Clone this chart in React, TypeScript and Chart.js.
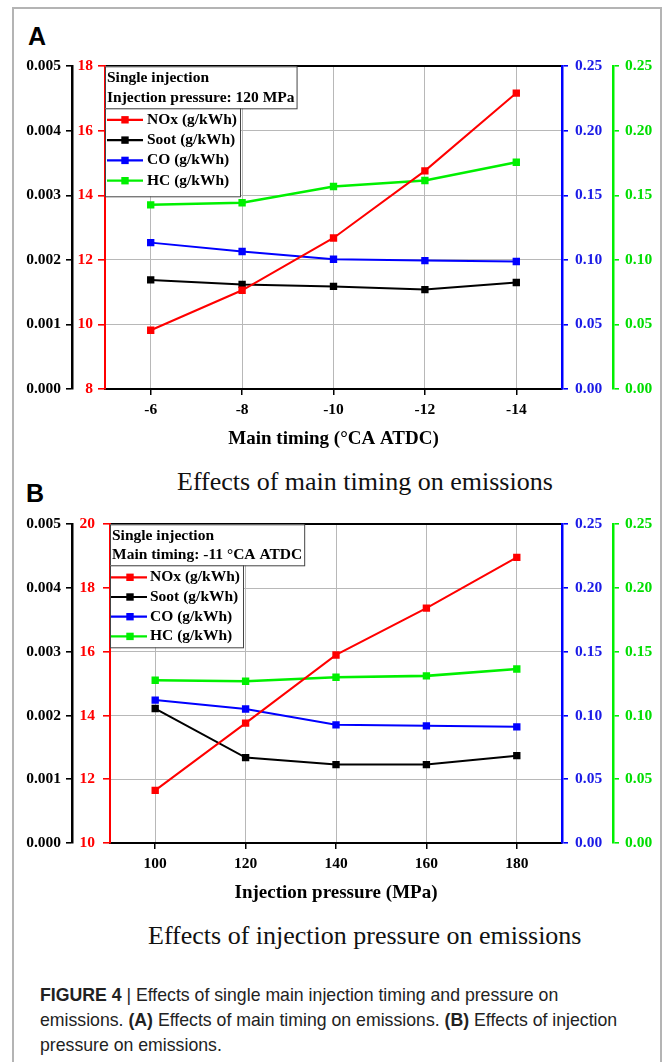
import React, { useEffect, useLayoutEffect, useRef, useState } from 'react';
import { Chart, registerables } from 'chart.js';

Chart.register(...registerables);

// ---------------- data ----------------
const seriesNames = ['NOx (g/kWh)', 'Soot (g/kWh)', 'CO (g/kWh)', 'HC (g/kWh)'];

// (A) main timing
const timingLabels = ['-6', '-8', '-10', '-12', '-14'];
const timingNOx = [9.82, 11.06, 12.68, 14.76, 17.17];
const timingSoot = [0.00169, 0.00162, 0.00159, 0.00154, 0.00165];
const timingCO = [0.1134, 0.1065, 0.1005, 0.0995, 0.0988];
const timingHC = [0.1427, 0.1443, 0.1569, 0.1615, 0.1757];
const timingNOxRange = [8, 18];
const timingAnnotation = ['Single injection', 'Injection pressure: 120 MPa'];
const timingTitle = 'Main timing (°CA ATDC)';
const timingCaption = 'Effects of main timing on emissions';

// (B) injection pressure
const pressureLabels = ['100', '120', '140', '160', '180'];
const pressureNOx = [11.65, 13.76, 15.9, 17.37, 18.96];
const pressureSoot = [0.00211, 0.00134, 0.00123, 0.00123, 0.00137];
const pressureCO = [0.1121, 0.1051, 0.0927, 0.0919, 0.0911];
const pressureHC = [0.1277, 0.1269, 0.13, 0.1311, 0.1365];
const pressureNOxRange = [10, 20];
const pressureAnnotation = ['Single injection', 'Main timing: -11 °CA ATDC'];
const pressureTitle = 'Injection pressure (MPa)';
const pressureCaption = 'Effects of injection pressure on emissions';

// shared axis ranges
const sootRange = [0, 0.005];
const sootStep = 0.001;
const coRange = [0, 0.25];
const hcRange = [0, 0.25];
const coStep = 0.05;

// ---------------- styles ----------------
const SERIF = '"Liberation Serif", "Times New Roman", serif';
const SANS = '"Liberation Sans", Arial, sans-serif';
const RED = '#ff0000';
const BLACK = '#000000';
const BLUE = '#0000ff';
const BLUE_TEXT = '#1a1ae6';
const GREEN = '#00f000';
const GREEN_TEXT = '#00dd00';
const GRID = '#b8b8b8';

const boxLegend = {
  id: 'boxLegend',
  afterDraw(chart: any, _args: any, opts: any) {
    const { ctx, chartArea } = chart;
    const left = chartArea.left;
    const top = chartArea.top;
    ctx.save();
    ctx.font = opts.font;
    ctx.textBaseline = 'middle';
    ctx.textAlign = 'left';
    // annotation box
    const annW = Math.max(...opts.lines.map((l: string) => ctx.measureText(l).width)) + opts.padX * 2;
    ctx.fillStyle = '#fff';
    ctx.fillRect(left, top, annW, opts.annH);
    ctx.strokeStyle = opts.borderColor;
    ctx.lineWidth = 1;
    ctx.strokeRect(left + 0.5, top + 0.5, annW, opts.annH);
    ctx.fillStyle = '#000';
    opts.lines.forEach((l: string, i: number) => {
      ctx.fillText(l, left + opts.padX, top + opts.firstLine + i * opts.lineGap);
    });
    // legend box
    const ds = chart.data.datasets;
    const legTop = top + opts.annH;
    const legW = Math.max(...ds.map((d: any) => ctx.measureText(d.label).width)) + opts.textX + opts.padR;
    ctx.fillStyle = '#fff';
    ctx.fillRect(left, legTop, legW, opts.legH);
    ctx.strokeStyle = opts.borderColor;
    ctx.strokeRect(left + 0.5, legTop + 0.5, legW, opts.legH);
    ds.forEach((d: any, i: number) => {
      const y = legTop + opts.firstItem + i * opts.itemGap;
      ctx.strokeStyle = d.borderColor;
      ctx.lineWidth = 2.2;
      ctx.beginPath();
      ctx.moveTo(left + opts.lineX0, y);
      ctx.lineTo(left + opts.lineX1, y);
      ctx.stroke();
      ctx.fillStyle = d.borderColor;
      ctx.fillRect(left + opts.markerX - 3.7, y - 3.7, 7.4, 7.4);
      ctx.fillStyle = '#000';
      ctx.fillText(d.label, left + opts.textX, y);
    });
    ctx.restore();
  },
};

function makeConfig(p: any) {
  const tickFont = { family: SERIF, size: 15.5, weight: 'bold' };
  const fixW = (w: number) => (s: any) => {
    s.width = w;
  };
  const fixH = (h: number) => (s: any) => {
    s.height = h;
  };
  const ds = (label: string, data: number[], color: string, axis: string, bw: number) => ({
    label,
    data,
    xAxisID: 'x',
    yAxisID: axis,
    borderColor: color,
    backgroundColor: color,
    borderWidth: bw,
    pointStyle: 'rect',
    pointRadius: 5.2,
    pointHoverRadius: 5.2,
    pointBorderWidth: 0,
    pointBackgroundColor: color,
    tension: 0,
    fill: false,
  });
  const sideAxis = (
    pos: string,
    weight: number,
    range: number[],
    step: number,
    digits: number,
    color: string,
    textColor: string,
    width: number,
    tickLen: number,
    pad: number,
    borderW: number
  ) => ({
    type: 'linear',
    position: pos,
    weight,
    min: range[0],
    max: range[1],
    ticks: {
      stepSize: step,
      color: textColor,
      font: tickFont,
      padding: pad,
      callback: (v: any) => Number(v).toFixed(digits),
    },
    grid: { drawOnChartArea: false, drawTicks: true, tickLength: tickLen, color, lineWidth: 1.6 },
    border: { display: true, color, width: borderW },
    afterFit: fixW(width),
  });
  return {
    type: 'line',
    data: {
      labels: p.labels,
      datasets: [
        ds(seriesNames[0], p.nox, RED, 'yN', 2),
        ds(seriesNames[1], p.soot, BLACK, 'yS', 2),
        ds(seriesNames[2], p.co, BLUE, 'yC', 2),
        ds(seriesNames[3], p.hc, GREEN, 'yH', 2.6),
      ],
    },
    options: {
      responsive: false,
      animation: false,
      events: [],
      layout: { padding: { top: 15, left: 0, right: 0, bottom: 0 } },
      plugins: {
        legend: { display: false },
        tooltip: { enabled: false },
        boxLegend: p.legend,
      },
      scales: {
        x: {
          type: 'category',
          position: 'bottom',
          offset: true,
          weight: 0,
          grid: { drawOnChartArea: false, drawTicks: true, tickLength: 6, color: '#000', lineWidth: 1.5 },
          border: { display: true, color: '#000', width: 2 },
          ticks: { color: '#000', font: tickFont, padding: 6, maxRotation: 0, autoSkip: false },
          title: {
            display: true,
            text: p.xTitle,
            color: '#000',
            font: { family: SERIF, size: 19, weight: 'bold' },
            padding: 0,
          },
          afterFit: fixH(61),
        },
        xGrid: {
          type: 'category',
          position: 'bottom',
          offset: true,
          weight: 1,
          grid: { color: GRID, lineWidth: 1, drawTicks: false },
          border: { display: false },
          ticks: { display: false },
          afterFit: fixH(0),
        },
        xTop: {
          type: 'category',
          position: 'top',
          offset: true,
          grid: { display: false },
          border: { display: true, color: '#000', width: 2 },
          ticks: { display: false },
          afterFit: fixH(0),
        },
        gY: {
          type: 'linear',
          position: 'left',
          weight: 0,
          min: 0,
          max: 5,
          ticks: { display: false, stepSize: 1 },
          grid: {
            drawTicks: false,
            lineWidth: 1,
            color: (c: any) => (c.index === 0 || c.index === 5 ? 'rgba(0,0,0,0)' : GRID),
          },
          border: { display: false },
          afterFit: fixW(0),
        },
        yS: sideAxis('left', 2, sootRange, sootStep, 3, BLACK, '#000', 72, 6, 5, 2.5),
        yN: sideAxis('left', 1, p.noxRange, 2, 0, RED, RED, p.redWidth, 7, p.redPad, 2),
        yC: sideAxis('right', 0, coRange, coStep, 2, BLUE, BLUE_TEXT, 51, 6, 7, 2.5),
        yH: sideAxis('right', 1, hcRange, coStep, 2, GREEN, GREEN_TEXT, 52, 6, 6, 2.5),
      },
    },
    plugins: [boxLegend],
  };
}

function EmissionChart({ cfg, top, height }: { cfg: any; top: number; height: number }) {
  const ref = useRef<HTMLCanvasElement | null>(null);
  useEffect(() => {
    const chart = new Chart(ref.current as HTMLCanvasElement, makeConfig(cfg) as any);
    return () => chart.destroy();
  }, []);
  return (
    <canvas
      ref={ref}
      width={665}
      height={height}
      style={{ position: 'absolute', left: 0, top, width: 665, height, display: 'block' }}
    />
  );
}

const chartA = {
  labels: timingLabels,
  nox: timingNOx,
  soot: timingSoot,
  co: timingCO,
  hc: timingHC,
  noxRange: timingNOxRange,
  xTitle: timingTitle,
  redWidth: 33,
  redPad: 5,
  legend: {
    font: `bold 15.5px ${SERIF}`,
    lines: timingAnnotation,
    borderColor: '#444',
    padX: 2,
    annH: 42,
    firstLine: 12,
    lineGap: 20,
    legH: 88,
    firstItem: 11.5,
    itemGap: 20.3,
    lineX0: 2,
    lineX1: 38,
    markerX: 20,
    textX: 42,
    padR: 3,
  },
};

const chartB = {
  labels: pressureLabels,
  nox: pressureNOx,
  soot: pressureSoot,
  co: pressureCO,
  hc: pressureHC,
  noxRange: pressureNOxRange,
  xTitle: pressureTitle,
  redWidth: 38,
  redPad: 8,
  legend: {
    font: `bold 15.5px ${SERIF}`,
    lines: pressureAnnotation,
    borderColor: '#444',
    padX: 2,
    annH: 41,
    firstLine: 11.5,
    lineGap: 19.5,
    legH: 82,
    firstItem: 12,
    itemGap: 19.7,
    lineX0: 1,
    lineX1: 37,
    markerX: 20,
    textX: 40,
    padR: 3,
  },
};

function Caption() {
  const ref = useRef<HTMLSpanElement | null>(null);
  const [scale, setScale] = useState(0.83);
  useLayoutEffect(() => {
    if (ref.current) {
      const w = ref.current.offsetWidth;
      if (w > 0) setScale(577 / w);
    }
  }, []);
  const lineStyle: React.CSSProperties = {
    display: 'block',
    whiteSpace: 'nowrap',
    height: 25,
  };
  return (
    <div
      style={{
        position: 'absolute',
        left: 40,
        top: 982,
        fontFamily: SANS,
        fontSize: 19,
        lineHeight: '25px',
        color: '#222',
        transform: `scaleX(${scale})`,
        transformOrigin: 'left top',
      }}
    >
      <div style={lineStyle}>
        <b>FIGURE 4</b> | Effects of single main injection timing and pressure on
      </div>
      <div style={lineStyle}>
        <span ref={ref}>
          emissions. <b>(A)</b> Effects of main timing on emissions. <b>(B)</b> Effects of injection
        </span>
      </div>
      <div style={lineStyle}>pressure on emissions.</div>
    </div>
  );
}

export default function App() {
  const panelLetter = (t: string, left: number, top: number) => (
    <div
      style={{
        position: 'absolute',
        left,
        top,
        fontFamily: SANS,
        fontWeight: 'bold',
        fontSize: 25,
        lineHeight: '25px',
        color: '#000',
      }}
    >
      {t}
    </div>
  );
  const subTitle = (t: string, left: number, top: number) => (
    <div
      style={{
        position: 'absolute',
        left,
        top,
        fontFamily: SERIF,
        fontSize: 26,
        lineHeight: '26px',
        color: '#111',
        whiteSpace: 'nowrap',
      }}
    >
      {t}
    </div>
  );
  return (
    <div
      style={{
        position: 'absolute',
        left: 0,
        top: 0,
        width: 665,
        height: 1062,
        overflow: 'hidden',
        background: '#fff',
      }}
    >
      <div
        style={{
          position: 'absolute',
          left: 12,
          top: 7,
          width: 650,
          height: 1120,
          border: '2px solid #b4b4b4',
          boxSizing: 'border-box',
        }}
      />
      {panelLetter('A', 28, 24)}
      <EmissionChart cfg={chartA} top={50} height={400} />
      {subTitle(timingCaption, 177, 469)}
      {panelLetter('B', 26, 481)}
      <EmissionChart cfg={chartB} top={507} height={397} />
      {subTitle(pressureCaption, 148, 923)}
      <Caption />
    </div>
  );
}
